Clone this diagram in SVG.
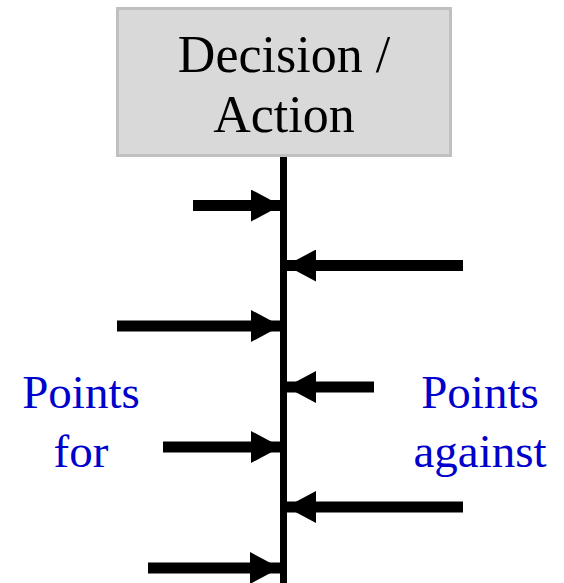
<svg xmlns="http://www.w3.org/2000/svg" width="564" height="583" viewBox="0 0 564 583">
  <style>
    .box { fill: #d9d9d9; stroke: #c0c0c0; stroke-width: 3; }
    .title { font-family: "Liberation Serif", "Times New Roman", serif; font-size: 52px; fill: #000; text-anchor: middle; }
    .side { font-family: "Liberation Serif", "Times New Roman", serif; font-size: 47px; fill: #0000cc; text-anchor: middle; }
    .spine { stroke: #000; stroke-width: 7; fill: none; }
    .arrow { stroke: #000; stroke-width: 11; fill: none; marker-end: url(#head); }
  </style>
  <defs>
    <marker id="head" markerUnits="userSpaceOnUse" markerWidth="30" markerHeight="32" refX="30" refY="16" orient="auto" viewBox="0 0 30 32">
      <path d="M0,0 L30,16 L0,32 Z" fill="#000"/>
    </marker>
  </defs>
  <rect width="564" height="583" fill="#fff"/>
  <g id="decision">
    <rect class="box" x="117.5" y="8.5" width="333" height="147"/>
    <text class="title" x="284" y="72">Decision /</text>
    <text class="title" x="284" y="132">Action</text>
  </g>
  <g id="points-for">
    <text class="side" x="81" y="408">Points</text>
    <text class="side" x="81" y="467">for</text>
  </g>
  <g id="points-against">
    <text class="side" x="480" y="408">Points</text>
    <text class="side" x="480" y="467">against</text>
  </g>
  <g id="connectors">
    <line class="spine" x1="283.5" y1="157" x2="283.5" y2="583"/>
    <line class="arrow" x1="193" y1="205.5" x2="281" y2="205.5"/>
    <line class="arrow" x1="463" y1="265.5" x2="286" y2="265.5"/>
    <line class="arrow" x1="117" y1="326" x2="281" y2="326"/>
    <line class="arrow" x1="374" y1="387" x2="286" y2="387"/>
    <line class="arrow" x1="163" y1="447" x2="281" y2="447"/>
    <line class="arrow" x1="463" y1="507" x2="286" y2="507"/>
    <line class="arrow" x1="148" y1="568" x2="280" y2="568"/>
  </g>
</svg>
